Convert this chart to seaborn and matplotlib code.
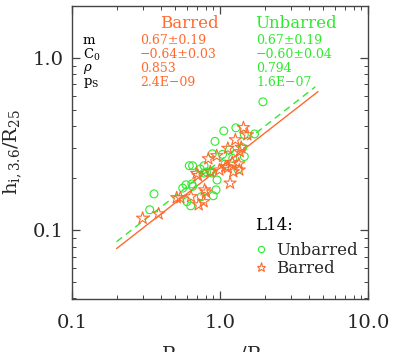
import numpy as np
import pandas as pd
import matplotlib
matplotlib.use("Agg")
import matplotlib.pyplot as plt
import seaborn as sns
from matplotlib.lines import Line2D
from matplotlib.ticker import FixedLocator, LogLocator, NullFormatter

# ---------------- data ----------------
unbarred_x = [1.95, 0.358, 0.335, 0.589, 0.56, 0.62, 0.653, 0.645, 0.653, 0.598, 0.634,
              0.748, 0.78, 0.736, 0.90, 0.94, 0.955, 0.925, 0.888, 0.86, 0.883, 1.06,
              1.04, 1.08, 1.16, 1.22, 1.28, 1.32, 1.46, 1.46, 1.71, 1.42, 0.78, 0.81]
unbarred_y = [0.555, 0.162, 0.131, 0.183, 0.175, 0.236, 0.236, 0.185, 0.179, 0.146, 0.138,
              0.156, 0.236, 0.226, 0.158, 0.171, 0.195, 0.327, 0.277, 0.218, 0.214, 0.376,
              0.275, 0.241, 0.292, 0.26, 0.392, 0.225, 0.267, 0.358, 0.361, 0.30, 0.214, 0.217]

barred_x = [0.30, 0.385, 0.51, 0.54, 0.637, 0.718, 0.775, 0.787, 0.804, 0.695, 0.71, 0.834,
            0.86, 0.95, 0.99, 1.13, 1.13, 1.17, 1.23, 1.27, 1.21, 1.34, 1.36, 1.39, 1.44,
            1.53, 1.35, 1.09]
barred_y = [0.117, 0.124, 0.154, 0.154, 0.156, 0.14, 0.146, 0.171, 0.166, 0.213, 0.207, 0.259,
            0.218, 0.27, 0.223, 0.298, 0.23, 0.187, 0.218, 0.334, 0.247, 0.242, 0.285, 0.302,
            0.393, 0.357, 0.223, 0.233]

# fit parameters (log h = C0 + m log R)
fit_m = {"Barred": 0.67, "Unbarred": 0.67}
fit_c0 = {"Barred": -0.64, "Unbarred": -0.60}
fit_xrange = {"Barred": [0.2, 4.6], "Unbarred": [0.2, 4.4]}

stat_names = ["m", r"C$_0$", r"$\rho$", r"p$_{\rm S}$"]
barred_stats = ["0.67\u00b10.19", "\u22120.64\u00b10.03", "0.853", "2.4E\u221209"]
unbarred_stats = ["0.67\u00b10.19", "\u22120.60\u00b10.04", "0.794", "1.6E\u221207"]

x_ticks = [0.1, 1.0, 10.0]
x_ticklabels = ["0.1", "1.0", "10.0"]
y_ticks = [0.1, 1.0]
y_ticklabels = ["0.1", "1.0"]

ORANGE = "#FF6A2E"
GREEN = "#2EEA2E"

# ---------------- style ----------------
sns.set_style("ticks")
plt.rcParams["font.family"] = ["DejaVu Serif"]
plt.rcParams["mathtext.fontset"] = "dejavuserif"

W, H = 399, 352
fig = plt.figure(figsize=(W / 100, H / 100), dpi=100)
ax = fig.add_axes([72 / W, 1 - 299 / H, (368 - 72) / W, (299 - 6) / H])

df_u = pd.DataFrame({"x": unbarred_x, "y": unbarred_y})
df_b = pd.DataFrame({"x": barred_x, "y": barred_y})

sns.scatterplot(data=df_u, x="x", y="y", marker="o", s=32, color=GREEN, ax=ax, zorder=3)
cu = ax.collections[-1]
cu.set_facecolor("none"); cu.set_edgecolor(GREEN); cu.set_linewidth(0.8)

sns.scatterplot(data=df_b, x="x", y="y", marker="*", s=85, color=ORANGE, ax=ax, zorder=3)
cb = ax.collections[-1]
cb.set_facecolor("none"); cb.set_edgecolor(ORANGE); cb.set_linewidth(0.8)

# fit lines
for grp, col, ls in [("Barred", ORANGE, "-"), ("Unbarred", GREEN, "--")]:
    xs = np.array(fit_xrange[grp])
    ys = 10 ** (fit_c0[grp] + fit_m[grp] * np.log10(xs))
    sns.lineplot(x=xs, y=ys, color=col, linewidth=1.0, ax=ax, zorder=2)
    if ls == "--":
        ax.lines[-1].set_dashes((5, 3.5))

ax.set_xscale("log")
ax.set_yscale("log")
ax.set_xlim(0.1, 10.0)
ax.set_ylim(0.0397, 2.0)

ax.xaxis.set_major_locator(FixedLocator(x_ticks))
ax.set_xticklabels(x_ticklabels)
ax.yaxis.set_major_locator(FixedLocator(y_ticks))
ax.set_yticklabels(y_ticklabels)
ax.xaxis.set_minor_locator(LogLocator(base=10, subs=np.arange(2, 10)))
ax.yaxis.set_minor_locator(LogLocator(base=10, subs=np.arange(2, 10)))
ax.xaxis.set_minor_formatter(NullFormatter())
ax.yaxis.set_minor_formatter(NullFormatter())

for sp in ax.spines.values():
    sp.set_visible(True)
    sp.set_color("#444444")
    sp.set_linewidth(1.0)
ax.tick_params(which="both", direction="in", top=True, right=True, color="#444444")
ax.tick_params(which="major", length=6, width=0.9, labelsize=14)
ax.tick_params(which="minor", length=3, width=0.7)
ax.tick_params(axis="x", which="major", pad=11)
ax.tick_params(axis="y", which="major", pad=6)

ax.set_xlabel(r"R$_{\rm i,H\alpha\,max}$/R$_{25}$", fontsize=14, labelpad=9)
ax.set_ylabel(r"h$_{\rm i,3.6}$/R$_{25}$", fontsize=14, labelpad=6)

# statistics block
def fx(px):
    return px / W

def fy(py):
    return 1 - py / H

fig.text(fx(189), fy(23), "Barred", color=ORANGE, fontsize=12, ha="center", va="center")
fig.text(fx(296), fy(23), "Unbarred", color=GREEN, fontsize=12, ha="center", va="center")
rows_y = [41, 55, 69, 83]
for name, bs, us, ry in zip(stat_names, barred_stats, unbarred_stats, rows_y):
    fig.text(fx(83), fy(ry), name, color="black", fontsize=9.5, ha="left", va="center")
    fig.text(fx(140), fy(ry), bs, color=ORANGE, fontsize=9, ha="left", va="center")
    fig.text(fx(256), fy(ry), us, color=GREEN, fontsize=9, ha="left", va="center")

# legend
fig.text(fx(255), fy(225), "L14:", color="black", fontsize=12, ha="left", va="center")
handles = [
    Line2D([], [], linestyle="none", marker="o", markersize=4.5, markerfacecolor="none",
           markeredgecolor=GREEN, markeredgewidth=0.8, label="Unbarred"),
    Line2D([], [], linestyle="none", marker="*", markersize=6.5, markerfacecolor="none",
           markeredgecolor=ORANGE, markeredgewidth=0.8, label="Barred"),
]
leg = ax.legend(handles=handles, loc="upper left",
                bbox_to_anchor=((256 - 72) / (368 - 72), 1 - (242 - 6) / (299 - 6)),
                frameon=False, fontsize=12, handlelength=0.6,
                handletextpad=0.6, labelspacing=0.05, borderaxespad=0.0, borderpad=0.0)

fig.savefig("out.png", dpi=100)
